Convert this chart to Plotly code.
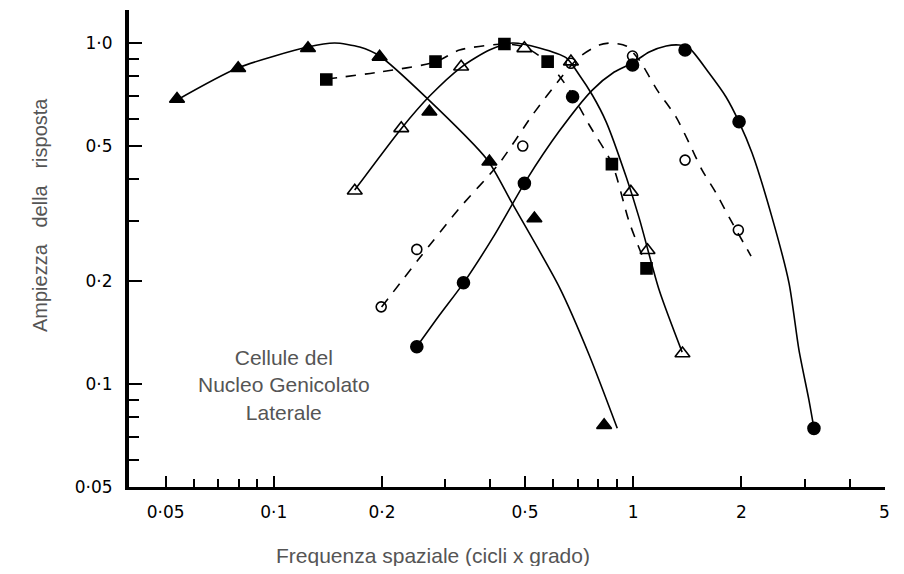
import plotly.graph_objects as go

# ---------------- data ----------------
# Filled triangles (solid curve)
ftri_x = [0.0538, 0.0796, 0.1245, 0.197, 0.271, 0.398, 0.531, 0.830]
ftri_y = [0.685, 0.843, 0.965, 0.911, 0.629, 0.449, 0.306, 0.0758]
ftri_fit_x = [0.0538, 0.0794, 0.1243, 0.1477, 0.1734, 0.197, 0.2644, 0.393, 0.4582, 0.6228, 0.7546, 0.9028]
ftri_fit_y = [0.681, 0.845, 0.973, 1.0, 0.973, 0.916, 0.695, 0.454, 0.342, 0.1925, 0.1216, 0.0743]

# Filled squares (dashed curve)
fsq_x = [0.140, 0.2818, 0.4382, 0.578, 0.8724, 1.089]
fsq_y = [0.782, 0.882, 0.993, 0.882, 0.4417, 0.2184]
fsq_fit_x = [0.1404, 0.197, 0.2818, 0.3286, 0.4382, 0.498, 0.577, 0.6642, 0.7546, 0.8743, 0.9747, 1.0937]
fsq_fit_y = [0.7845, 0.822, 0.880, 0.954, 0.993, 0.973, 0.880, 0.728, 0.575, 0.4417, 0.2986, 0.2189]

# Open triangles (solid curve)
otri_x = [0.168, 0.2263, 0.3321, 0.498, 0.671, 0.985, 1.096, 1.371]
otri_y = [0.369, 0.5622, 0.8522, 0.9647, 0.882, 0.366, 0.247, 0.123]
otri_fit_x = [0.1679, 0.2268, 0.2714, 0.3327, 0.3981, 0.4612, 0.5482, 0.6515, 0.7079, 0.7694,
              0.8414, 0.9563, 1.0391, 1.1808, 1.368]
otri_fit_y = [0.3706, 0.563, 0.6992, 0.8504, 0.954, 1.0, 0.967, 0.904, 0.806, 0.704,
              0.5865, 0.4045, 0.3067, 0.1887, 0.1241]

# Open circles (dashed curve)
ocir_x = [0.199, 0.250, 0.4928, 0.671, 0.9957, 1.394, 1.961]
ocir_y = [0.1685, 0.2483, 0.4988, 0.872, 0.916, 0.4537, 0.2829]
ocir_fit_x = [0.1995, 0.2544, 0.3286, 0.4243, 0.5242, 0.6351, 0.7079, 0.8045, 0.8686, 0.9563,
              1.0391, 1.1659, 1.3163, 1.4308, 1.5546, 1.7007, 1.8478, 2.1273]
ocir_fit_y = [0.1682, 0.2342, 0.3282, 0.4446, 0.6149, 0.8002, 0.9098, 0.9866, 1.0, 0.9799,
              0.8914, 0.7278, 0.6067, 0.5089, 0.4242, 0.3632, 0.3088, 0.2373]

# Filled circles (solid curve)
fcir_x = [0.250, 0.3371, 0.498, 0.6782, 0.9957, 1.394, 1.970, 3.183]
fcir_y = [0.1287, 0.1982, 0.3878, 0.696, 0.862, 0.954, 0.588, 0.0742]
fcir_fit_x = [0.2495, 0.2892, 0.3371, 0.411, 0.5044, 0.6228, 0.7694, 0.8855, 0.9936, 1.1078,
              1.235, 1.3419, 1.4308, 1.6256, 1.8124, 1.97, 2.1413, 2.4322, 2.7131, 2.8919,
              3.0826, 3.1828]
fcir_fit_y = [0.1284, 0.1594, 0.1978, 0.2735, 0.3965, 0.5519, 0.7278, 0.8222, 0.8737, 0.941,
              0.9799, 0.9866, 0.9668, 0.8166, 0.6947, 0.5865, 0.4759, 0.3088, 0.1978, 0.1258,
              0.0898, 0.0743]

x_tickvals = [0.05, 0.1, 0.2, 0.5, 1, 2, 5]
x_ticktext = ["0·05", "0·1", "0·2", "0·5", "1", "2", "5"]
x_minor = [0.06, 0.07, 0.08, 0.09, 0.3, 0.4, 0.6, 0.7, 0.8, 0.9, 3, 4]
y_tickvals = [1.0, 0.5, 0.2, 0.1, 0.05]
y_ticktext = ["1·0", "0·5", "0·2", "0·1", "0·05"]
y_minor = [0.9, 0.8, 0.7, 0.6, 0.4, 0.3, 0.09, 0.08, 0.07, 0.06]

x_title = "Frequenza spaziale (cicli x grado)"
y_title = "Ampiezza\u00a0\u00a0 della\u00a0\u00a0 risposta"
label_text = "Cellule del<br>Nucleo Genicolato<br>Laterale"

# ---------------- figure ----------------
fig = go.Figure()

def curve(x, y, dash):
    fig.add_trace(go.Scatter(x=x, y=y, mode="lines", showlegend=False, hoverinfo="skip",
                             line=dict(color="black", width=1.6, dash=dash, shape="spline",
                                       smoothing=0.7)))

def marks(x, y, symbol, size):
    fig.add_trace(go.Scatter(x=x, y=y, mode="markers", showlegend=False,
                             marker=dict(symbol=symbol, size=size, color="black",
                                         line=dict(color="black", width=1.6))))

curve(ftri_fit_x, ftri_fit_y, "solid")
curve(fsq_fit_x, fsq_fit_y, "10px,9px")
curve(otri_fit_x, otri_fit_y, "solid")
curve(ocir_fit_x, ocir_fit_y, "10px,9px")
curve(fcir_fit_x, fcir_fit_y, "solid")

marks(ftri_x, ftri_y, "triangle-up", 13)
marks(fsq_x, fsq_y, "square", 11)
marks(otri_x, otri_y, "triangle-up-open", 13)
marks(ocir_x, ocir_y, "circle-open", 10)
marks(fcir_x, fcir_y, "circle", 12)

tickfont = dict(family="DejaVu Sans", size=17, color="black")

fig.update_xaxes(type="log", range=[-1.4028, 0.7005], showgrid=False, zeroline=False,
                 showline=True, linecolor="black", linewidth=3,
                 tickvals=x_tickvals, ticktext=x_ticktext, ticks="inside", ticklen=11,
                 tickwidth=2, tickcolor="black", tickfont=tickfont, ticklabelstandoff=8,
                 minor=dict(tickvals=x_minor, ticks="inside", ticklen=8, tickwidth=1.5,
                            tickcolor="black", showgrid=False))
fig.update_yaxes(type="log", range=[-1.3015, 0.0968], showgrid=False, zeroline=False,
                 showline=True, linecolor="black", linewidth=4,
                 tickvals=y_tickvals, ticktext=y_ticktext, ticks="inside", ticklen=13,
                 tickwidth=2, tickcolor="black", tickfont=tickfont, ticklabelstandoff=9,
                 minor=dict(tickvals=y_minor, ticks="inside", ticklen=10, tickwidth=1.5,
                            tickcolor="black", showgrid=False))

# plot domain in the reference page: x 129..885, y 10..487
fig.add_annotation(text=label_text, xref="paper", yref="paper",
                   x=(284 - 129) / 756, y=(487 - 385) / 477, showarrow=False,
                   xanchor="center", yanchor="middle",
                   font=dict(family="Liberation Sans", size=21, color="#555555"),
                   align="center")
fig.add_annotation(text=x_title, xref="paper", yref="paper",
                   x=(433 - 129) / 756, y=(487 - 555) / 477, showarrow=False,
                   xanchor="center", yanchor="middle",
                   font=dict(family="Liberation Sans", size=21, color="#555555"))
fig.add_annotation(text=y_title, xref="paper", yref="paper", textangle=-90,
                   x=(40 - 129) / 756, y=(487 - 215) / 477, showarrow=False,
                   xanchor="center", yanchor="middle",
                   font=dict(family="Liberation Sans", size=20, color="#555555"))

# page body has an 8px margin, so the figure is drawn 8px smaller and offset
fig.update_layout(width=888, height=558, paper_bgcolor="white", plot_bgcolor="white",
                  margin=dict(l=121, r=11, t=2, b=79), showlegend=False)

fig.write_html("out.html")
